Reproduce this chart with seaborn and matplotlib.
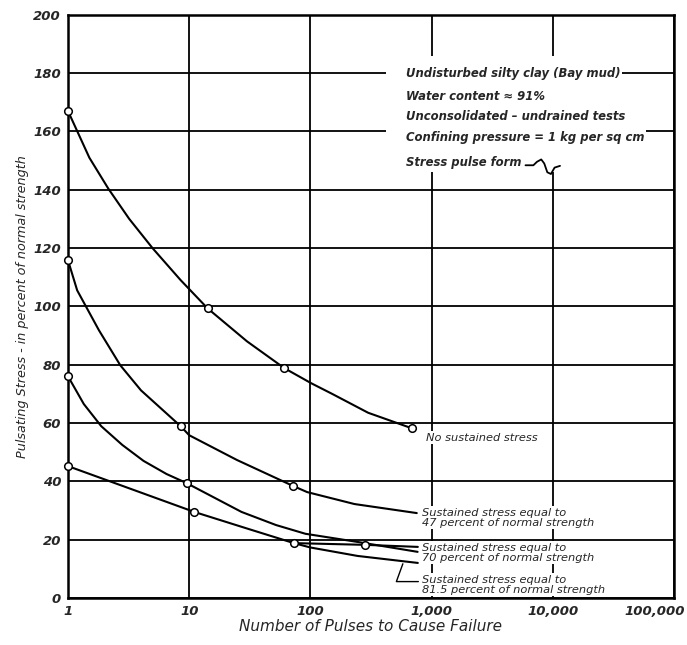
import matplotlib
matplotlib.use("Agg")
import matplotlib.pyplot as plt
import matplotlib.transforms as mtransforms
import seaborn as sns
from matplotlib.ticker import NullLocator
from matplotlib.patches import Rectangle

sns.set_style("white")
plt.rcParams['font.family'] = ['DejaVu Sans']

# ---- data ----
# No sustained stress
none_n = [1, 1.5, 2.15, 3.2, 5.0, 8.5, 14.2, 30, 61, 102, 151, 300, 686]
none_s = [167, 151, 140.4, 130, 119.9, 109, 99.3, 88, 78.8, 73.6, 70, 63.5, 58.2]
none_mk_n = [1, 14.2, 61, 686]
none_mk_s = [167, 99.3, 78.8, 58.2]

# Sustained stress 47 percent
s47_n = [1, 1.19, 1.8, 2.7, 4.0, 8.5, 10, 24.8, 72, 94, 231, 755]
s47_s = [115.8, 105.5, 91.8, 79.8, 71.2, 58.9, 55.8, 47.3, 38.4, 36.3, 32.2, 29.1]
s47_mk_n = [1, 8.5, 72]
s47_mk_s = [115.8, 58.9, 38.4]

# Sustained stress 70 percent
s70_n = [1, 1.35, 1.88, 2.8, 4.2, 6.5, 9.5, 27, 52, 91, 245, 767]
s70_s = [76, 66.5, 58.9, 52.5, 47, 42.5, 39.4, 29.5, 25, 22, 19.2, 15.8]
s70_mk_n = [1, 9.5]
s70_mk_s = [76, 39.4]

# Sustained stress 81.5 percent
s815_n = [1, 2.7, 11, 29, 73, 100, 245, 770]
s815_s = [45.2, 38.7, 29.5, 24, 18.8, 17.3, 14.4, 12]
s815_mk_n = [1, 11, 73, 284]
s815_mk_s = [45.2, 29.5, 18.8, 18.2]
# flat branch with markers
flat_n = [73, 284, 770]
flat_s = [18.8, 18.2, 17.5]

x_ticks = [1, 10, 100, 1000, 10000, 100000]
x_tick_labels = ["1", "10", "100", "1,000", "10,000", "100,000"]
y_ticks = [0, 20, 40, 60, 80, 100, 120, 140, 160, 180, 200]
y_tick_labels = ["0", "20", "40", "60", "80", "100", "120", "140", "160", "180", "200"]

box_lines = [
    "Undisturbed silty clay (Bay mud)",
    "Water content \u2248 91%",
    "Unconsolidated \u2013 undrained tests",
    "Confining pressure = 1 kg per sq cm",
    "Stress pulse form",
]
box_y = [180, 172, 165, 158, 149.5]

# ---- figure ----
fig = plt.figure(figsize=(6.87, 6.45), dpi=100)
ax = fig.add_axes([0.099, 0.073, 0.882, 0.904])
ax.set_xscale('log')
ax.set_xlim(1, 100000)
ax.set_ylim(0, 200)

for n, s in [(none_n, none_s), (s47_n, s47_s), (s70_n, s70_s),
             (s815_n, s815_s), (flat_n, flat_s)]:
    sns.lineplot(x=n, y=s, ax=ax, color='black', lw=1.5, sort=False,
                 estimator=None, zorder=3, clip_on=False)

mk_n = none_mk_n + s47_mk_n + s70_mk_n + s815_mk_n
mk_s = none_mk_s + s47_mk_s + s70_mk_s + s815_mk_s
sns.scatterplot(x=mk_n, y=mk_s, ax=ax, s=30, facecolor='white',
                edgecolor='black', linewidth=1.1, zorder=5, clip_on=False)

# axes styling
ax.set_xticks(x_ticks)
ax.set_xticklabels(x_tick_labels, fontstyle='italic', fontweight='bold', fontsize=9.5)
ax.xaxis.set_minor_locator(NullLocator())
ax.set_yticks(y_ticks)
ax.set_yticklabels(y_tick_labels, fontstyle='italic', fontweight='bold', fontsize=9.5)
ax.tick_params(length=0, pad=5)
last = ax.get_xticklabels()[-1]
last.set_ha('right')
last.set_transform(last.get_transform() +
                   mtransforms.ScaledTranslation(8 / 72, 0, fig.dpi_scale_trans))
ax.grid(True, which='major', color='black', lw=1.3)
ax.set_axisbelow(True)
for sp in ax.spines.values():
    sp.set_color('black')
    sp.set_linewidth(1.8)

ax.set_xlabel("Number of Pulses to Cause Failure", fontstyle='italic',
              fontsize=11, labelpad=1)
ax.set_ylabel("Pulsating Stress - in percent of normal strength",
              fontstyle='italic', fontsize=9.2, labelpad=3)

# annotation box
ax.add_patch(Rectangle((420, 146), 35000 - 420, 40, facecolor='white',
                       edgecolor='none', zorder=1.5))
for t, y in zip(box_lines, box_y):
    ax.text(620, y, t, fontsize=8.4, fontstyle='italic', fontweight='bold',
            va='center', ha='left', zorder=4,
            bbox=dict(facecolor='white', edgecolor='none', pad=1.0))
# stress pulse form glyph
sq_x = [0.755, 0.768, 0.774, 0.781, 0.786, 0.791, 0.797, 0.803, 0.812]
sq_y = [0.742, 0.742, 0.748, 0.752, 0.745, 0.730, 0.727, 0.738, 0.741]
ax.plot(sq_x, sq_y, transform=ax.transAxes, color='black', lw=1.3, zorder=4)

# curve labels
lbl = dict(fontsize=8.2, fontstyle='italic', va='center', ha='left', zorder=4,
           bbox=dict(facecolor='white', edgecolor='none', pad=1.0))
ax.text(900, 55, "No sustained stress", **lbl)
ax.text(830, 27.5, "Sustained stress equal to\n47 percent of normal strength",
        linespacing=1.05, **lbl)
ax.text(830, 15.5, "Sustained stress equal to\n70 percent of normal strength",
        linespacing=1.05, **lbl)
ax.text(830, 4.5, "Sustained stress equal to\n81.5 percent of normal strength",
        linespacing=1.05, **lbl)
ax.annotate("", xy=(590, 12.6), xytext=(820, 5.6),
            arrowprops=dict(arrowstyle='-', color='black', lw=1.0,
                            connectionstyle='angle,angleA=0,angleB=70'),
            zorder=4)

fig.savefig("out.png", dpi=100)
